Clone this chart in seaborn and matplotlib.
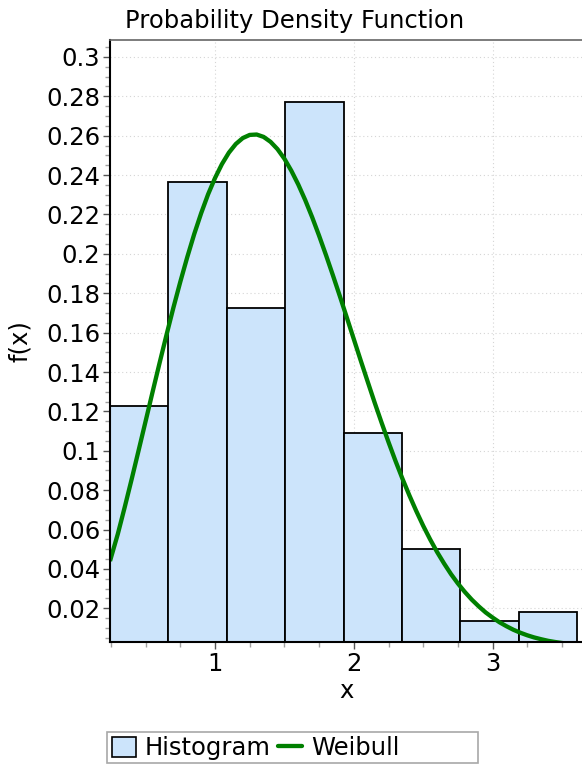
import matplotlib
matplotlib.use("Agg")
import matplotlib.pyplot as plt
import seaborn as sns
from matplotlib.ticker import MultipleLocator
from matplotlib.patches import Patch, Rectangle
from matplotlib.lines import Line2D

# Histogram: bin edges and relative frequencies (counts / 220)
bin_edges = [0.2435, 0.6645, 1.085, 1.5055, 1.926, 2.3465, 2.767, 3.1875, 3.608]
rel_freq = [0.1227, 0.2364, 0.1727, 0.2773, 0.1091, 0.0500, 0.0136, 0.0182]

# Fitted Weibull density, scaled to the bin width
weibull_x = [0.2435, 0.30, 0.35, 0.40, 0.45, 0.50, 0.55, 0.60, 0.65, 0.70,
             0.75, 0.80, 0.85, 0.90, 0.95, 1.00, 1.05, 1.10, 1.15, 1.20,
             1.25, 1.30, 1.35, 1.40, 1.45, 1.50, 1.55, 1.60, 1.65, 1.70,
             1.75, 1.80, 1.85, 1.90, 1.95, 2.00, 2.05, 2.10, 2.15, 2.20,
             2.25, 2.30, 2.35, 2.40, 2.45, 2.50, 2.55, 2.60, 2.65, 2.70,
             2.75, 2.80, 2.85, 2.90, 2.95, 3.00, 3.05, 3.10, 3.15, 3.20,
             3.25, 3.30, 3.35, 3.40, 3.45, 3.50, 3.52]
weibull_y = [0.0440, 0.0578, 0.0715, 0.0857, 0.1003, 0.1150, 0.1298, 0.1444,
             0.1587, 0.1726, 0.1858, 0.1983, 0.2100, 0.2206, 0.2302, 0.2385,
             0.2456, 0.2514, 0.2558, 0.2588, 0.2604, 0.2606, 0.2594, 0.2569,
             0.2532, 0.2483, 0.2422, 0.2352, 0.2273, 0.2186, 0.2092, 0.1993,
             0.1890, 0.1784, 0.1676, 0.1567, 0.1458, 0.1351, 0.1245, 0.1143,
             0.1044, 0.0949, 0.0859, 0.0774, 0.0694, 0.0619, 0.0550, 0.0486,
             0.0428, 0.0374, 0.0326, 0.0283, 0.0244, 0.0210, 0.0179, 0.0153,
             0.0129, 0.0109, 0.0091, 0.0076, 0.0063, 0.0052, 0.0043, 0.0035,
             0.0029, 0.0024, 0.0022]

x_ticks = [1, 2, 3]
y_ticks = [0.02, 0.04, 0.06, 0.08, 0.1, 0.12, 0.14, 0.16, 0.18, 0.2,
           0.22, 0.24, 0.26, 0.28, 0.3]
y_tick_labels = ["0.02", "0.04", "0.06", "0.08", "0.1", "0.12", "0.14", "0.16",
                 "0.18", "0.2", "0.22", "0.24", "0.26", "0.28", "0.3"]

BAR_COLOR = "#cce4fb"
LINE_COLOR = "#008000"
FS = 17.5
W, H = 582, 765

sns.set_style("ticks")
plt.rcParams["font.family"] = ["DejaVu Sans"]
plt.rcParams["text.color"] = "black"
plt.rcParams["axes.labelcolor"] = "black"
plt.rcParams["xtick.labelcolor"] = "black"
plt.rcParams["ytick.labelcolor"] = "black"

fig = plt.figure(figsize=(W / 100, H / 100), dpi=100)
ax = fig.add_axes([110 / W, 123 / H, 472 / W, 602 / H])
ax.set_axisbelow(True)

bin_centers = [(a + b) / 2 for a, b in zip(bin_edges[:-1], bin_edges[1:])]
sns.histplot(x=bin_centers, weights=rel_freq, bins=bin_edges, stat="count",
             color=BAR_COLOR, edgecolor="black", linewidth=1.3, alpha=1, ax=ax)
sns.lineplot(x=weibull_x, y=weibull_y, color=LINE_COLOR, linewidth=3.1,
             ax=ax, solid_capstyle="butt")

ax.set_xlim(0.2435, 3.644)
ax.set_ylim(0.0029, 0.3086)

ax.set_xticks(x_ticks)
ax.xaxis.set_minor_locator(MultipleLocator(0.25))
ax.set_yticks(y_ticks, labels=y_tick_labels)
ax.yaxis.set_minor_locator(MultipleLocator(0.005))

ax.tick_params(which="major", length=5, width=1.0, color="#555555",
               labelsize=FS, pad=2, labelcolor="black")
ax.tick_params(which="minor", length=3.5, width=1.0, color="#a0a0a0")

ax.grid(True, which="major", linestyle=(0, (1, 2.5)), color="#d5d5d5",
        linewidth=0.8)

ax.spines["left"].set_color("black")
ax.spines["left"].set_linewidth(1.5)
ax.spines["bottom"].set_color("black")
ax.spines["bottom"].set_linewidth(1.5)
ax.spines["top"].set_color("#666666")
ax.spines["top"].set_linewidth(1.2)
ax.spines["right"].set_visible(False)

ax.set_xlabel("x", fontsize=FS, color="black")
ax.xaxis.set_label_coords(0.5, -0.062)
ax.set_ylabel("f(x)", fontsize=FS, color="black")
ax.yaxis.set_label_coords(-0.165, 0.5)

fig.text(295 / W, 1 - 28 / H, "Probability Density Function",
         ha="center", va="baseline", fontsize=FS, color="black")

# Legend strip below the plot: frame box with the entries left-aligned inside
fig.add_artist(Rectangle((107 / W, 1 - 763 / H), 371 / W, 31 / H,
                         transform=fig.transFigure, fill=False,
                         edgecolor="#a8a8a8", linewidth=1.2))
handles = [Patch(facecolor=BAR_COLOR, edgecolor="black", linewidth=1.2),
           Line2D([0], [0], color=LINE_COLOR, linewidth=3.1)]
fig.legend(handles, ["Histogram", "Weibull"], loc="center left",
           bbox_to_anchor=(112 / W, 1 - 748 / H), ncol=2,
           fontsize=FS, frameon=False, handlelength=1.0, handleheight=0.9,
           handletextpad=0.35, columnspacing=0.3, borderpad=0.0,
           borderaxespad=0, labelcolor="black")

fig.savefig("out.png", dpi=100)
